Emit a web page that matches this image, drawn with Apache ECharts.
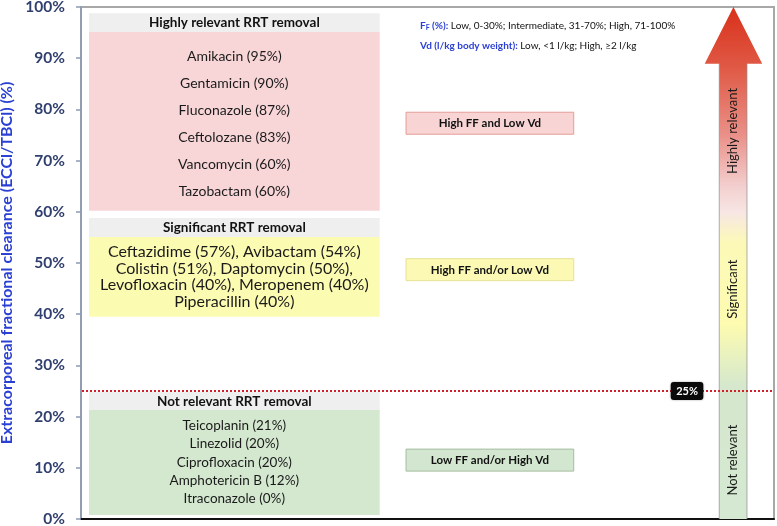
<!DOCTYPE html>
<html><head><meta charset="utf-8">
<script src="https://cdn.jsdelivr.net/npm/echarts@6/dist/echarts.min.js"></script>
<style>html,body{margin:0;padding:0;background:#fff}#c{width:777px;height:526px}</style>
</head><body><div id="c"></div>
<script>
// ---- data ----
const yTickValues = [0,10,20,30,40,50,60,70,80,90,100];
const groupTitles = ['Highly relevant RRT removal','Significant RRT removal','Not relevant RRT removal'];
const groupDrugs = [
  ['Amikacin (95%)','Gentamicin (90%)','Fluconazole (87%)','Ceftolozane (83%)','Vancomycin (60%)','Tazobactam (60%)'],
  ['Ceftazidime (57%), Avibactam (54%)','Colistin (51%), Daptomycin (50%),','Levofloxacin (40%), Meropenem (40%)','Piperacillin (40%)'],
  ['Teicoplanin (21%)','Linezolid (20%)','Ciprofloxacin (20%)','Amphotericin B (12%)','Itraconazole (0%)']
];
const headerTop = [98.8, 58.8, 24.8];
const bodyTop = [95.1, 55.1, 21.3];
const bodyBottom = [60.2, 39.5, 0.8];
const noteLabels = ['High FF and Low Vd','High FF and/or Low Vd','Low FF and/or High Vd'];
const noteCenter = [77.3, 48.7, 11.5];
const arrowLabels = ['Highly relevant','Significant','Not relevant'];
const arrowLabelCenter = [75.8, 44.9, 11.5];
const arrowTop = 100;
const arrowHeadBase = 88.9;
const arrowBottom = 0;
const threshold = 25;
const thresholdLabel = '25%';

// ---- styles / layout ----
const FONT = 'Lato, "Open Sans", sans-serif';
const boxX = [1.15, 43.1];
const noteX = [46.9, 71.1];
const arrowHeadX = [90.0, 98.3];
const arrowShaftX = [92.1, 96.1];
const labelX = [85.1, 89.8];
const bodyColors = ['#f8d6d8', '#fcfbb2', '#d4e8d0'];
const headerColor = '#efefef';
const noteFill = ['#f8d5d4', '#fbf9b4', '#d3e7d0'];
const noteStroke = ['#e49d98', '#e6e195', '#a4bda0'];
const bodyFont = [14, 16, 13.5];
const bodyLineGap = [27, 16.7, 18.3];

const chart = echarts.init(document.getElementById('c'), null, {renderer:'canvas'});

function boxesRender(params, api) {
  const i = api.value(0);
  const p1 = api.coord([boxX[0], api.value(1)]);
  const p2 = api.coord([boxX[1], api.value(2)]);
  const p3 = api.coord([boxX[1], api.value(3)]);
  const w = p2[0] - p1[0];
  const children = [
    {type:'rect', shape:{x:p1[0], y:p1[1], width:w, height:p2[1]-p1[1]}, style:{fill:headerColor}},
    {type:'rect', shape:{x:p1[0], y:p2[1], width:w, height:p3[1]-p2[1]}, style:{fill:bodyColors[i]}},
    {type:'text', x:p1[0]+w/2, y:(p1[1]+p2[1])/2+0.5, style:{text:groupTitles[i], align:'center', verticalAlign:'middle', font:'bold 13.5px '+FONT, fill:'#111'}}
  ];
  const lines = groupDrugs[i];
  const cy = (p2[1]+p3[1])/2 + (i===0?3:0);
  lines.forEach((t, k) => {
    children.push({type:'text', x:p1[0]+w/2, y:cy + (k-(lines.length-1)/2)*bodyLineGap[i],
      style:{text:t, align:'center', verticalAlign:'middle', font:bodyFont[i]+'px '+FONT, fill:'#1a1a1a'}});
  });
  return {type:'group', children};
}

function notesRender(params, api) {
  const i = api.value(0);
  const c = api.coord([noteX[0], api.value(1)]);
  const c2 = api.coord([noteX[1], api.value(1)]);
  const h = 22;
  return {type:'group', children:[
    {type:'rect', shape:{x:c[0], y:c[1]-h/2, width:c2[0]-c[0], height:h}, style:{fill:noteFill[i], stroke:noteStroke[i], lineWidth:1}},
    {type:'text', x:(c[0]+c2[0])/2, y:c[1]+0.5, style:{text:noteLabels[i], align:'center', verticalAlign:'middle', font:'bold 11.5px '+FONT, fill:'#111'}}
  ]};
}

function arrowRender(params, api) {
  const tip = api.coord([(arrowHeadX[0]+arrowHeadX[1])/2, api.value(0)]);
  const hb = api.coord([arrowHeadX[0], api.value(1)]);
  const hr = api.coord([arrowHeadX[1], api.value(1)]);
  const sl = api.coord([arrowShaftX[0], api.value(2)]);
  const sr = api.coord([arrowShaftX[1], api.value(2)]);
  const pts = [[tip[0],tip[1]],[hr[0],hr[1]],[sr[0],hr[1]],[sr[0],sr[1]],[sl[0],sl[1]],[sl[0],hb[1]],[hb[0],hb[1]]];
  const grad = new echarts.graphic.LinearGradient(0,0,0,1,[
    {offset:0, color:'#d8301a'},
    {offset:0.12, color:'#e05a46'},
    {offset:0.25, color:'#ea9088'},
    {offset:0.35, color:'#f3cfcf'},
    {offset:0.40, color:'#f7e6e4'},
    {offset:0.46, color:'#fcf9b8'},
    {offset:0.62, color:'#fdfbb0'},
    {offset:0.74, color:'#d5e8cd'},
    {offset:1, color:'#d5e8d2'}
  ]);
  return {type:'group', children:[
    {type:'polygon', shape:{points:pts}, style:{fill:grad}},
    {type:'line', shape:{x1:sl[0], y1:hb[1], x2:sl[0], y2:sl[1]}, style:{stroke:'rgba(140,140,140,0.7)', lineWidth:1}},
    {type:'line', shape:{x1:sr[0], y1:hb[1], x2:sr[0], y2:sr[1]}, style:{stroke:'rgba(140,140,140,0.7)', lineWidth:1}}
  ]};
}

function arrowLabelRender(params, api) {
  const i = api.value(0);
  const c = api.coord([(arrowShaftX[0]+arrowShaftX[1])/2, api.value(1)]);
  return {type:'text', x:c[0], y:c[1], rotation:Math.PI/2,
    style:{text:arrowLabels[i], align:'center', verticalAlign:'middle', font:'13px '+FONT, fill:'#1a1a1a'}};
}

function thresholdRender(params, api) {
  const a = api.coord([0, api.value(0)]);
  const b = api.coord([100, api.value(0)]);
  const l1 = api.coord([labelX[0], api.value(0)]);
  const l2 = api.coord([labelX[1], api.value(0)]);
  return {type:'group', children:[
    {type:'line', shape:{x1:a[0]+1, y1:a[1], x2:b[0], y2:b[1]}, style:{stroke:'#d0202a', lineWidth:2, lineDash:[2,2]}},
    {type:'rect', shape:{x:l1[0], y:l1[1]-9, width:l2[0]-l1[0], height:18, r:3}, style:{fill:'#0a0a0a', shadowBlur:2, shadowColor:'rgba(0,0,0,0.4)'}},
    {type:'text', x:(l1[0]+l2[0])/2, y:l1[1]+0.5, style:{text:thresholdLabel, align:'center', verticalAlign:'middle', font:'bold 11px '+FONT, fill:'#fff'}}
  ]};
}

const option = {
  animation:false,
  backgroundColor:'#fff',
  grid:{left:81, right:3, top:7, bottom:7, outerBoundsMode:'none', containLabel:false, show:true, borderColor:'#a8a8a8', borderWidth:2, backgroundColor:'#fff'},
  xAxis:{type:'value', min:0, max:100, axisLine:{show:true, onZero:false, lineStyle:{color:'#111', width:2}}, axisTick:{show:false}, axisLabel:{show:false}, splitLine:{show:false}},
  yAxis:{type:'value', min:yTickValues[0], max:yTickValues[yTickValues.length-1], interval:yTickValues[1]-yTickValues[0],
    name:'Extracorporeal fractional clearance (ECCl/TBCl) (%)', nameLocation:'middle', nameGap:63,
    nameTextStyle:{color:'#2a3fd4', fontWeight:'bold', fontSize:16, fontFamily:FONT},
    axisLine:{show:true, lineStyle:{color:'#8d9ab6', width:1.5}},
    axisTick:{show:true, length:5, lineStyle:{color:'#8d9ab6', width:1.5}},
    axisLabel:{formatter:'{value}%', fontWeight:'bold', fontSize:15.5, color:'#2f3f6e', fontFamily:FONT, margin:16},
    splitLine:{show:false}},
  graphic:[
    {type:'text', left:420, top:21, style:{
      text:'{b|F}{s|F}{b| (%):} Low, 0-30%; Intermediate, 31-70%; High, 71-100%',
      font:'10px '+FONT, fill:'#111',
      rich:{b:{fontWeight:'bold', fill:'#2a3fd4', fontSize:10, fontFamily:'Lato'}, s:{fontWeight:'bold', fill:'#2a3fd4', fontSize:7, fontFamily:'Lato', verticalAlign:'bottom', padding:[4,0,0,0]}}}},
    {type:'text', left:420, top:41, style:{
      text:'{b|Vd (l/kg body weight):} Low, <1 l/kg; High, ≥2 l/kg',
      font:'10px '+FONT, fill:'#111',
      rich:{b:{fontWeight:'bold', fill:'#2a3fd4', fontSize:10, fontFamily:'Lato'}}}}
  ],
  series:[
    {type:'custom', renderItem:arrowRender, data:[[arrowTop, arrowHeadBase, arrowBottom]], z:1, silent:true},
    {type:'custom', renderItem:arrowLabelRender, data:arrowLabels.map((_,i)=>[i, arrowLabelCenter[i]]), z:2, silent:true},
    {type:'custom', renderItem:boxesRender, data:groupTitles.map((_,i)=>[i, headerTop[i], bodyTop[i], bodyBottom[i]]), z:2, silent:true},
    {type:'custom', renderItem:notesRender, data:noteLabels.map((_,i)=>[i, noteCenter[i]]), z:2, silent:true},
    {type:'custom', renderItem:thresholdRender, data:[[threshold]], z:3, silent:true}
  ]
};
chart.setOption(option);
</script></body></html>
